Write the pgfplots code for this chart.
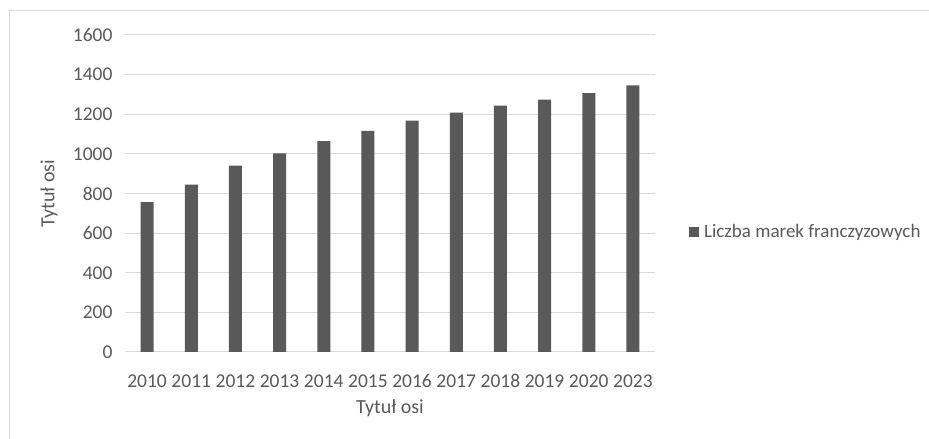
\documentclass[border=0pt]{standalone}
\usepackage{pgfplots}
\pgfplotsset{compat=1.18}
\usepackage{fontspec}
\setmainfont{Carlito}
\definecolor{txt}{HTML}{595959}
\definecolor{barc}{HTML}{595959}
\definecolor{gridc}{HTML}{D9D9D9}
\begin{document}
\begin{tikzpicture}[x=1pt,y=1pt]
\path[use as bounding box] (0,0) rectangle (929,439);
\draw[gridc, line width=1pt] (9,0) -- (9,428) -- (929,428);
\begin{axis}[
  at={(125pt,87pt)}, anchor=south west,
  scale only axis, width=530pt, height=317pt,
  xmin=-0.5, xmax=11.5, ymin=0, ymax=1600,
  ytick={0,200,...,1600},
  xtick={0,...,11},
  xticklabels={2010,2011,2012,2013,2014,2015,2016,2017,2018,2019,2020,2023},
  axis lines*=left,
  y axis line style={draw=none},
  x axis line style={gridc, line width=1pt, -},
  major tick length=0pt,
  ymajorgrids, grid style={gridc, line width=1pt},
  /pgf/number format/assume math mode=true,
  /pgf/number format/1000 sep={},
  tick label style={txt, font=\fontsize{19.5}{22}\selectfont},
  yticklabel style={xshift=-9pt},
  xticklabel style={anchor=center, yshift=-31pt, text height=9pt, text depth=0pt},
  every axis y label/.style={at={(axis description cs:-0.1435,0.5)}, rotate=90, anchor=center, txt, font=\fontsize{20}{22}\selectfont},
  every axis x label/.style={at={(axis description cs:0.5,-0.1767)}, anchor=center, txt, font=\fontsize{20}{22}\selectfont},
  ylabel={Tytuł osi},
  xlabel={Tytuł osi},
  legend style={at={(axis description cs:1.064,0.3785)}, anchor=west, draw=none, fill=none, text=txt, font=\fontsize{19}{22}\selectfont, inner sep=0pt},
  legend image code/.code={\fill[barc] (0pt,-5pt) rectangle (10pt,5pt);},
  legend cell align=left,
]
\addplot[ybar, bar width=13pt, fill=barc, draw=none] coordinates {
 (0,757) (1,845) (2,941) (3,1003) (4,1064) (5,1116) (6,1168) (7,1208) (8,1243) (9,1274) (10,1306) (11,1346)
};
\addlegendentry{\hspace{3pt}Liczba marek franczyzowych}
\end{axis}
\end{tikzpicture}
\end{document}
